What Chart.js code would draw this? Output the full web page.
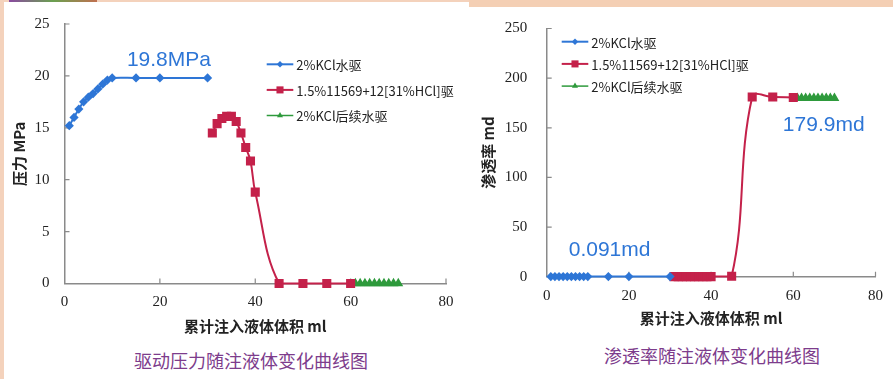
<!DOCTYPE html>
<html><head><meta charset="utf-8">
<script src="https://cdn.jsdelivr.net/npm/chart.js@4"></script>
<style>
html,body{margin:0;padding:0;background:#fff;width:893px;height:379px;overflow:hidden;position:relative}
#c1{position:absolute;left:0;top:0}
#c2{position:absolute;left:470px;top:0}
.t{position:absolute;font-family:"Noto Sans CJK SC";font-size:18px;color:#7D3C8C;white-space:nowrap;transform:translate(-50%,-50%)}
</style></head><body>
<div style="position:absolute;left:0;top:0;width:4px;height:379px;background:#F4D2BC"></div>
<div style="position:absolute;left:0;top:0;width:469px;height:2px;background:#F4D2BC"></div>
<div style="position:absolute;left:9px;top:0;width:88px;height:2px;background:linear-gradient(90deg,#8a4aa0,#6aa050,#c07050)"></div>
<div style="position:absolute;left:469px;top:0;width:424px;height:7px;background:#F4CFB4"></div>
<canvas id="c1" width="470" height="340"></canvas>
<canvas id="c2" width="423" height="340"></canvas>
<div class="t" style="left:251px;top:360px">驱动压力随注液体变化曲线图</div>
<div class="t" style="left:712px;top:355px">渗透率随注液体变化曲线图</div>
<script>
// ---- data ----
const seriesNames = ['2%KCl水驱', '1.5%11569+12[31%HCl]驱', '2%KCl后续水驱'];
const xWater = [1,2,3,4,5,6,7,8,9,10,15,20,30];
const xAcid  = [31,32,33,34,35,36,37,38,39,40,45,50,55,60];
const xPost  = [61,62,63,64,65,66,67,68,69,70];
const pressureWater = [15.2,16.0,16.8,17.5,17.95,18.3,18.75,19.2,19.6,19.8,19.8,19.8,19.8];
const pressureAcid  = [14.5,15.4,15.9,16.1,16.1,15.6,14.5,13.1,11.8,8.8,0,0,0,0];
const pressurePost  = [0,0,0,0,0,0,0,0,0,0];
const permWater = [0.091,0.091,0.091,0.091,0.091,0.091,0.091,0.091,0.091,0.091,0.091,0.091,0.091];
const permAcid  = [0.1,0.1,0.1,0.1,0.1,0.1,0.1,0.1,0.1,0.1,0.4,181,181,180.5];
const permPost  = [179.9,179.9,179.9,179.9,179.9,179.9,179.9,179.9,179.9,179.9];
const xTicksMax = 80, xStep = 20;
const pressureMax = 25, pressureStep = 5;
const permMax = 250, permStep = 50;
const pressureNote = '19.8MPa';
const permNoteHigh = '179.9md';
const permNoteLow = '0.091md';

const BLUE = '#2E76D6', RED = '#C4214A', GREEN = '#2E9A3C';
const pts = (xs, ys) => xs.map((x, i) => ({x, y: ys[i]}));

function drawMarker(ctx, style, x, y, r) {
  ctx.beginPath();
  if (style === 'rectRot') { ctx.moveTo(x, y - r); ctx.lineTo(x + r, y); ctx.lineTo(x, y + r); ctx.lineTo(x - r, y); }
  else if (style === 'rect') { const s = r * Math.SQRT1_2; ctx.rect(x - s, y - s, 2 * s, 2 * s); }
  else { const h = r * 0.866; ctx.moveTo(x, y - r); ctx.lineTo(x + h, y + r / 2); ctx.lineTo(x - h, y + r / 2); }
  ctx.closePath(); ctx.fill();
}

const insideTicks = {
  id: 'insideTicks',
  beforeDatasetsDraw(chart) {
    const {ctx, scales: {x, y}, chartArea: a} = chart;
    ctx.save(); ctx.strokeStyle = '#8a8a8a'; ctx.lineWidth = 1.2; ctx.beginPath();
    x.ticks.forEach(t => { if (t.value === 0) return; const p = x.getPixelForValue(t.value); ctx.moveTo(p, a.bottom); ctx.lineTo(p, a.bottom - 5); });
    y.ticks.forEach(t => { if (t.value === 0) return; const p = y.getPixelForValue(t.value); ctx.moveTo(a.left, p); ctx.lineTo(a.left + 5, p); });
    ctx.stroke(); ctx.restore();
  }
};
const boxLegend = {
  id: 'boxLegend',
  afterDatasetsDraw(chart, args, o) {
    const ctx = chart.ctx; ctx.save();
    chart.data.datasets.forEach((ds, i) => {
      const yy = o.y + i * o.dy;
      ctx.strokeStyle = ds.borderColor; ctx.lineWidth = ds.borderWidth;
      ctx.beginPath(); ctx.moveTo(o.x, yy); ctx.lineTo(o.x + o.len, yy); ctx.stroke();
      ctx.fillStyle = ds.pointBackgroundColor;
      drawMarker(ctx, ds.pointStyle, o.x + o.len / 2, yy, ds.legendR);
      ctx.fillStyle = '#222'; ctx.font = '13px "Noto Sans CJK SC"'; ctx.textBaseline = 'middle'; ctx.textAlign = 'left';
      ctx.fillText(ds.label, o.x + o.len + 3, yy + 1);
    });
    ctx.restore();
  }
};
const notes = {
  id: 'notes',
  afterDatasetsDraw(chart, args, o) {
    const ctx = chart.ctx; ctx.save();
    ctx.fillStyle = BLUE; ctx.font = '21px "Liberation Sans"'; ctx.textAlign = 'center'; ctx.textBaseline = 'middle';
    o.items.forEach(it => ctx.fillText(it.text, chart.scales.x.getPixelForValue(it.x), chart.scales.y.getPixelForValue(it.y)));
    ctx.restore();
  }
};

function datasets(yw, ya, yp) {
  return [
    {label: seriesNames[0], data: pts(xWater, yw), borderColor: BLUE, backgroundColor: BLUE, pointBackgroundColor: BLUE, pointBorderColor: BLUE,
     pointStyle: 'rectRot', pointRadius: 3.2, borderWidth: 2, legendR: 3.2, tension: 0.4, clip: false},
    {label: seriesNames[1], data: pts(xAcid, ya), borderColor: RED, backgroundColor: RED, pointBackgroundColor: RED, pointBorderColor: RED,
     pointStyle: 'rect', pointRadius: 5, borderWidth: 2, legendR: 5, tension: 0.4, clip: false},
    {label: seriesNames[2], data: pts(xPost, yp), borderColor: GREEN, backgroundColor: GREEN, pointBackgroundColor: GREEN, pointBorderColor: GREEN,
     pointStyle: 'triangle', pointRadius: 4.2, borderWidth: 1.5, legendR: 3.5, tension: 0.4, clip: false}
  ];
}

function axisCfg(g) {
  const tickFont = {family: '"Liberation Serif"', size: 15};
  const titleFont = {family: '"Noto Sans CJK SC"', size: 15, weight: 'bold'};
  return {
    x: {type: 'linear', min: 0, max: xTicksMax,
        ticks: {stepSize: xStep, padding: 10, font: tickFont, color: '#222'},
        grid: {display: false, drawTicks: false}, border: {display: true, color: '#8a8a8a', width: 1.5},
        title: {display: true, text: '累计注入液体体积 ml', font: titleFont, color: '#222', padding: {top: 0, bottom: g.xtPad}},
        afterFit(s) { s.height = g.xh; }},
    y: {type: 'linear', min: 0, max: g.ymax,
        ticks: {stepSize: g.ystep, padding: g.ytickPad, font: tickFont, color: '#222'},
        grid: {display: false, drawTicks: false}, border: {display: true, color: '#8a8a8a', width: 1.5},
        title: {display: true, text: g.ytitle, font: titleFont, color: '#222', padding: {top: g.ytPad, bottom: 0}},
        afterFit(s) { s.width = g.yw; }}
  };
}

new Chart(document.getElementById('c1'), {
  type: 'line',
  data: {datasets: datasets(pressureWater, pressureAcid, pressurePost)},
  options: {
    responsive: false, animation: false, devicePixelRatio: 1,
    layout: {padding: {top: 20, right: 24, left: 0, bottom: 0}},
    scales: axisCfg({xh: 56.5, xtPad: 4.3, ymax: pressureMax, ystep: pressureStep, ytickPad: 15, ytitle: '压力 MPa', ytPad: 10, yw: 64.5}),
    plugins: {legend: {display: false}, tooltip: {enabled: false},
      boxLegend: {x: 266.7, y: 64.3, dy: 25.6, len: 26.6},
      notes: {items: [{text: pressureNote, x: 21.9, y: 21.5}]}}
  },
  plugins: [insideTicks, boxLegend, notes]
});

new Chart(document.getElementById('c2'), {
  type: 'line',
  data: {datasets: datasets(permWater, permAcid, permPost)},
  options: {
    responsive: false, animation: false, devicePixelRatio: 1,
    layout: {padding: {top: 25, right: 12, left: 0, bottom: 0}},
    scales: axisCfg({xh: 63.3, xtPad: 12.7, ymax: permMax, ystep: permStep, ytickPad: 19.5, ytitle: '渗透率 md', ytPad: 9, yw: 76.7}),
    plugins: {legend: {display: false}, tooltip: {enabled: false},
      boxLegend: {x: 91.7, y: 41.7, dy: 22.2, len: 26.6},
      notes: {items: [{text: permNoteHigh, x: 67.4, y: 153}, {text: permNoteLow, x: 15.3, y: 26.5}]}}
  },
  plugins: [insideTicks, boxLegend, notes]
});
</script>
</body></html>
